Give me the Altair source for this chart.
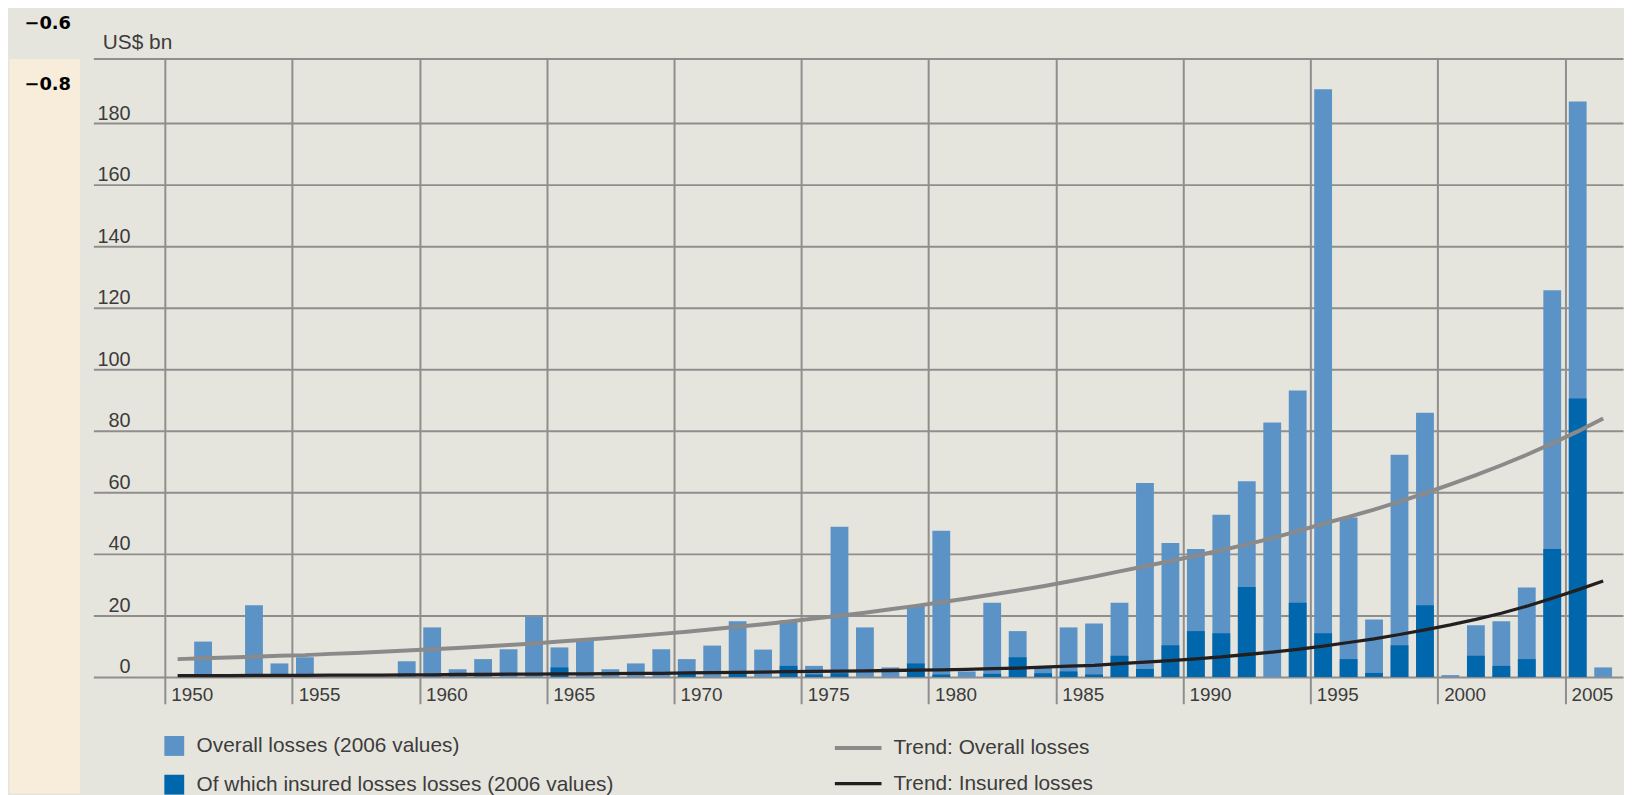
import altair as alt
import pandas as pd

# ---------------- data ----------------
years = list(range(1950, 2007))
overall = [0, 11.5, 0, 23.3, 4.4, 6.4, 0, 0, 0, 5.1,
           16.1, 2.5, 5.8, 9.0, 19.6, 9.6, 12.3, 2.5, 4.4, 9.0,
           5.8, 10.2, 18.1, 8.9, 18.4, 3.6, 48.8, 16.1, 3.1, 23.3,
           47.5, 1.8, 24.1, 14.9, 3.1, 16.1, 17.4, 24.1, 63.0, 43.5,
           41.6, 52.7, 63.6, 82.7, 93.1, 191.0, 51.8, 18.7, 72.2, 85.9,
           0.6, 16.8, 18.1, 29.1, 125.7, 187.0, 3.1]
insured = [0, 0, 0, 0, 0.8, 0, 0, 0, 0, 0,
           0, 0, 0, 0, 0, 3.1, 0, 0, 0, 0,
           1.6, 0, 1.7, 0, 3.6, 0.8, 1.2, 0, 0, 4.4,
           0.8, 0, 1.0, 6.4, 1.2, 1.8, 0.8, 6.9, 2.6, 10.3,
           14.9, 14.2, 29.2, 0, 24.1, 14.2, 5.8, 1.3, 10.3, 23.3,
           0, 6.9, 3.6, 5.8, 41.6, 90.5, 0]
trend_overall = [5.8, 6.1, 6.3, 6.6, 6.9, 7.1, 7.5, 7.8, 8.2, 8.6,
                 9.0, 9.4, 9.9, 10.4, 10.9, 11.5, 12.1, 12.7, 13.3, 14.0,
                 14.7, 15.5, 16.3, 17.1, 18.0, 19.0, 19.9, 20.9, 22.0, 23.1,
                 24.3, 25.5, 26.8, 28.1, 29.5, 31.0, 32.6, 34.3, 36.0, 37.7,
                 39.4, 41.2, 43.1, 45.1, 47.4, 49.8, 52.0, 54.4, 57.0, 59.7,
                 62.6, 65.6, 68.8, 72.2, 75.9, 79.8, 84.0]
trend_insured = [0.4, 0.4, 0.4, 0.5, 0.5, 0.5, 0.6, 0.6, 0.6, 0.7,
                 0.7, 0.8, 0.8, 0.9, 0.9, 1.0, 1.0, 1.1, 1.2, 1.2,
                 1.3, 1.4, 1.5, 1.6, 1.7, 1.8, 1.9, 2.0, 2.1, 2.2,
                 2.3, 2.5, 2.7, 2.9, 3.2, 3.5, 3.8, 4.3, 4.8, 5.3,
                 5.9, 6.5, 7.3, 8.1, 9.0, 10.0, 11.2, 12.4, 13.8, 15.3,
                 16.9, 18.7, 20.7, 23.0, 25.6, 28.3, 31.2]
y_ticks = [0, 20, 40, 60, 80, 100, 120, 140, 160, 180]
x_ticks = [1950, 1955, 1960, 1965, 1970, 1975, 1980, 1985, 1990, 1995, 2000, 2005]
left_ticks = [-0.6, -0.8]
bar_names = ["Overall losses (2006 values)", "Of which insured losses losses (2006 values)"]
line_names = ["Trend: Overall losses", "Trend: Insured losses"]

# ---------------- styles ----------------
LIGHT = "#5B93C7"
DARK = "#0067AC"
TREND_GREY = "#8A8A8A"
TREND_BLACK = "#231F20"
BG = "#E6E5DD"
GRID = "#8E8E8E"
TXT = "#3C3C3C"
CREAM = "#F8ECDA"
FONT = "Liberation Sans"

bars_df = pd.DataFrame({"year": years, bar_names[0]: overall, bar_names[1]: insured})
trend_df = pd.DataFrame({"year": years, line_names[0]: trend_overall, line_names[1]: trend_insured})

Y_TOP = 200.97
x_scale = alt.Scale(domain=[1947.19, 2007.28], nice=False, zero=False)
y_scale = alt.Scale(domain=[0, Y_TOP], nice=False, zero=False)

x_axis = alt.Axis(values=x_ticks, format="d", grid=True, gridColor=GRID, gridWidth=2,
                  domain=False, ticks=True, tickSize=27, tickColor=GRID, tickWidth=2,
                  labelAlign="left", labelBaseline="alphabetic", labelPadding=-3, labelOffset=6,
                  labelFontSize=19, labelColor=TXT, labelFont=FONT, labelFlush=False,
                  labelOverlap=False, title=None)
y_axis = alt.Axis(values=y_ticks + [Y_TOP - 0.01], grid=True, gridColor=GRID, gridWidth=2,
                  domain=False, ticks=False, tickSize=0, labelPadding=-37,
                  labelAlign="right", labelBaseline="alphabetic", labelOffset=-4,
                  labelFontSize=20, labelColor=TXT, labelFont=FONT, labelOverlap=False,
                  labelExpr="datum.value > 190 ? '' : datum.label",
                  title="US$ bn", titleAngle=0, titleAlign="left", titleBaseline="alphabetic",
                  titleX=9, titleY=-10, titleFontSize=21, titleFontWeight="normal",
                  titleColor=TXT, titleFont=FONT)

bars = alt.Chart(bars_df).transform_fold(
    bar_names, as_=["series", "value"]
).transform_calculate(
    x0="datum.year + 0.15", x1="datum.year + 0.85"
).mark_bar().encode(
    x=alt.X("x0:Q", scale=x_scale, axis=x_axis),
    x2="x1:Q",
    y=alt.Y("value:Q", scale=y_scale, axis=y_axis, stack=None),
    y2=alt.datum(0),
    color=alt.Color("series:N", scale=alt.Scale(domain=bar_names, range=[LIGHT, DARK]),
                    legend=alt.Legend(orient="none", legendX=156, legendY=682, direction="vertical",
                                      title=None, symbolType="square", symbolSize=400,
                                      symbolStrokeWidth=0, symbolOpacity=1, labelFontSize=21,
                                      labelColor=TXT, labelFont=FONT, labelOffset=12,
                                      rowPadding=17, padding=0, labelLimit=1000)),
)

lines = alt.Chart(trend_df).transform_fold(
    line_names, as_=["series", "value"]
).transform_calculate(
    xm="datum.year + 0.5"
).mark_line().encode(
    x=alt.X("xm:Q", scale=x_scale, axis=x_axis),
    y=alt.Y("value:Q", scale=y_scale, axis=y_axis),
    stroke=alt.Stroke("series:N", scale=alt.Scale(domain=line_names, range=[TREND_GREY, TREND_BLACK]),
                      legend=alt.Legend(orient="none", legendX=830, legendY=669, direction="vertical",
                                        title=None, symbolType="stroke", symbolSize=2209,
                                        symbolStrokeWidth=5, labelFontSize=21, labelColor=TXT,
                                        labelFont=FONT, labelOffset=10, rowPadding=-9, padding=0,
                                        labelLimit=1000)),
    strokeWidth=alt.StrokeWidth("series:N", scale=alt.Scale(domain=line_names, range=[4, 3.3]),
                                legend=None),
)

main = alt.layer(bars, lines).properties(
    width=1541, height=623, view=alt.ViewBackground(stroke="transparent")
)

left = alt.Chart(pd.DataFrame({"v": left_ticks})).mark_text(
    align="right", baseline="middle", dx=27, font="DejaVu Sans", fontWeight="bold",
    fontSize=18, color="#000000"
).encode(
    y=alt.Y("v:Q", scale=alt.Scale(domain=[-3.1, -0.7129], nice=False, zero=False), axis=None),
    text=alt.Text("v:Q", format=".1f"),
).properties(width=71, height=740, view=alt.ViewBackground(fill=CREAM, stroke="transparent"))

chart = alt.hconcat(left, main, spacing=14, bounds="flush").properties(
    background=BG, padding={"left": 0, "top": 3, "right": 0, "bottom": 0}
)

chart.save("out.html", embed_options={"renderer": "svg", "actions": False})
